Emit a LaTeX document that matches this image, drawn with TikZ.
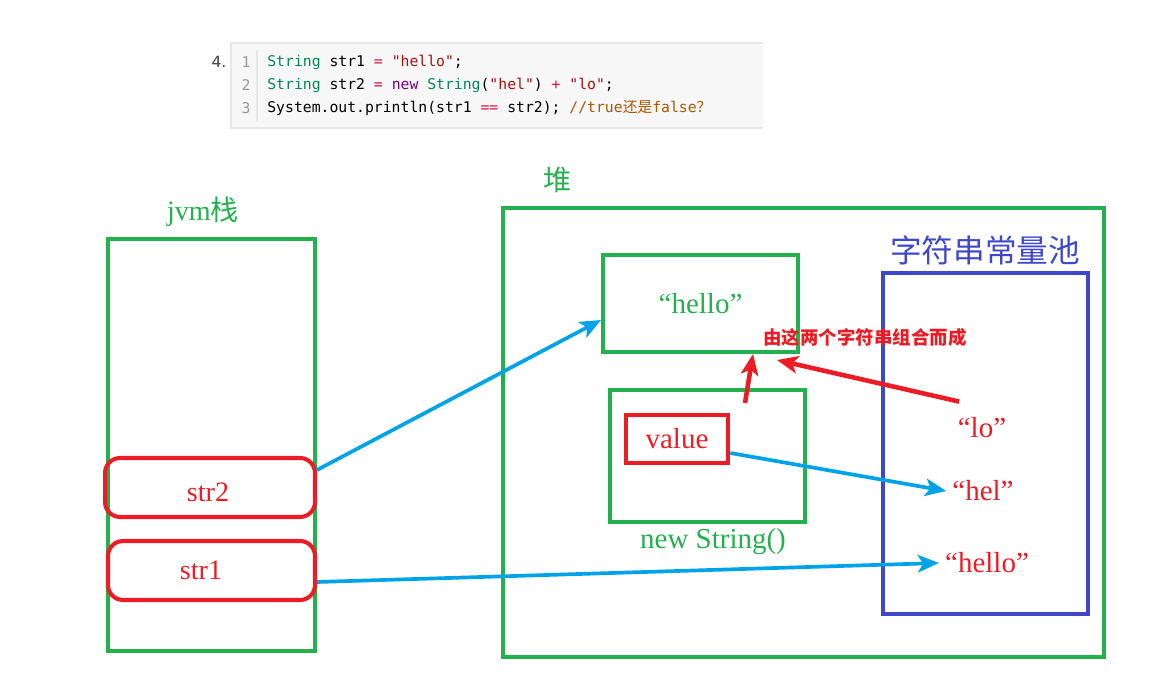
\documentclass[tikz,border=0pt]{standalone}
\usepackage{fontspec}
\setmainfont{Liberation Serif}
\setmonofont{DejaVu Sans Mono}
\newfontfamily\cjk{Noto Sans CJK SC}
\newfontfamily\numfont{DejaVu Sans}
\usetikzlibrary{arrows.meta}
\definecolor{pgreen}{HTML}{22B14C}
\definecolor{pred}{HTML}{ED1C24}
\definecolor{pblue}{HTML}{3F48CC}
\definecolor{parrow}{HTML}{00A2E8}
\definecolor{codebg}{HTML}{F7F7F7}
\definecolor{codeline}{HTML}{E6E6E6}
\definecolor{ctype}{HTML}{008855}
\definecolor{cop}{HTML}{DD1144}
\definecolor{cstr}{HTML}{AA1111}
\definecolor{ckey}{HTML}{770088}
\definecolor{ccom}{HTML}{AA5500}
\definecolor{cnum}{HTML}{999999}
\begin{document}
\begin{tikzpicture}[x=0.02cm, y=-0.02cm,
    greenbox/.style={draw=pgreen, line width=2.3pt},
    redround/.style={draw=pred, line width=2.3pt, rounded corners=0.3cm, text=pred, font=\fontsize{16}{19}\selectfont},
    redbox/.style={draw=pred, line width=2.6pt, text=pred, font=\fontsize{16.5}{19}\selectfont},
    bluebox/.style={draw=pblue, line width=2.3pt},
    greentext/.style={text=pgreen, font=\fontsize{16.5}{19}\selectfont},
    redtext/.style={text=pred, font=\fontsize{16.5}{19}\selectfont},
    code/.style={anchor=west, inner sep=0pt, font=\ttfamily\fontsize{8.4}{10}\selectfont},
    lineno/.style={inner sep=0pt, text=cnum, font=\ttfamily\fontsize{8.4}{10}\selectfont},
    bluearrow/.style={draw=parrow, line width=2.1pt, -{Stealth[length=12pt, width=10pt, inset=3pt]}},
    redarrow/.style={draw=pred, line width=2.6pt, -{Stealth[length=12pt, width=10pt, inset=3pt]}}]
    \useasboundingbox (0,0) rectangle (1152,685);

    % code snippet
    \fill[codebg] (231,43) rectangle (763,128);
    \draw[codeline, line width=0.6pt] (763,43) -- (231,43) -- (231,128) -- (763,128);
    \draw[codeline, line width=0.8pt] (257,50) -- (257,121);
    \node[inner sep=0pt, text=black!75, font=\numfont\fontsize{8.8}{10}\selectfont] (num) at (219,62) {4.};
    \node[lineno] (n1) at (246,62) {1};
    \node[lineno] (n2) at (246,85) {2};
    \node[lineno] (n3) at (246,108) {3};
    \node[code] (line1) at (267,62) {{\color{ctype}String} str1 {\color{cop}=} {\color{cstr}"hello"};};
    \node[code] (line2) at (267,85) {{\color{ctype}String} str2 {\color{cop}=} {\color{ckey}new} {\color{ctype}String}({\color{cstr}"hel"}) {\color{cop}+} {\color{cstr}"lo"};};
    \node[code] (line3) at (267,108) {System.out.println(str1 {\color{cop}==} str2); {\color{ccom}//true{\cjk 还是}false{\cjk ？}}};

    % jvm stack
    \node[text=pgreen, font=\fontsize{16}{19}\selectfont] (stacklbl) at (203,212) {jvm{\cjk 栈}};
    \node[greenbox, minimum width=4.14cm, minimum height=8.24cm] (stack) at (211.5,445) {};
    \node[redround, minimum width=4.2cm, minimum height=1.18cm] (str2) at (210,487.5) {};
    \node[text=pred, font=\fontsize{16}{19}\selectfont] (str2lbl) at (208,492) {str2};
    \node[redround, minimum width=4.14cm, minimum height=1.18cm] (str1) at (211.5,570.5) {};
    \node[text=pred, font=\fontsize{16}{19}\selectfont] (str1lbl) at (201,570) {str1};

    % heap
    \node[text=pgreen, font=\cjk\fontsize{16}{19}\selectfont] (heaplbl) at (558,180) {堆};
    \node[greenbox, minimum width=12.02cm, minimum height=8.98cm] (heap) at (803.5,432.5) {};
    \node[greenbox, greentext, minimum width=3.9cm, minimum height=1.94cm] (hellobox) at (700.5,303.5) {“hello”};
    \node[greenbox, minimum width=3.9cm, minimum height=2.64cm] (newbox) at (707.5,456) {};
    \node[greentext] (newlbl) at (713,542) {new String()};
    \node[redbox, minimum width=2.04cm, minimum height=0.96cm] (valuebox) at (677,439) {value};

    % string pool
    \node[text=pblue, font=\cjk\fontsize{18}{21}\selectfont] (poollbl) at (985,250) {字符串常量池};
    \node[bluebox, minimum width=4.1cm, minimum height=6.82cm] (pool) at (985.5,443.5) {};
    \node[redtext] (lo) at (982,428) {“lo”};
    \node[redtext] (hel) at (983,491) {“hel”};
    \node[redtext] (hello2) at (987,563) {“hello”};

    \node[text=pred, font=\cjk\bfseries\fontsize{10.5}{12}\selectfont] (note) at (865,337) {由这两个字符串组合而成};

    % references
    \draw[bluearrow] ([yshift=0.35cm]str2.east) -- ([yshift=-0.33cm]hellobox.west);
    \draw[bluearrow] ([yshift=-0.28cm]valuebox.east) -- (hel.west);
    \draw[bluearrow] ([yshift=-0.23cm]str1.east) -- (hello2.west);
    \draw[redarrow] ([xshift=0.15cm, yshift=0.2cm]lo.north west) -- ([xshift=-0.46cm, yshift=-0.12cm]hellobox.south east);
    \draw[redarrow] ([xshift=0.75cm, yshift=-0.3cm]newbox.north) -- ([xshift=1.05cm]hellobox.south);
\end{tikzpicture}
\end{document}
